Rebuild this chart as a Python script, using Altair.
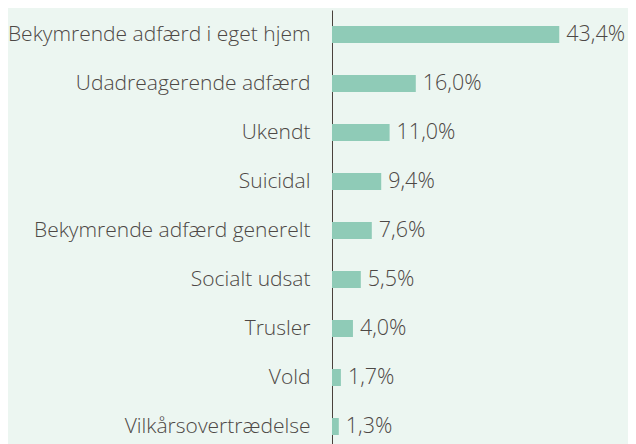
import altair as alt
import pandas as pd

categories = [
    "Bekymrende adfærd i eget hjem",
    "Udadreagerende adfærd",
    "Ukendt",
    "Suicidal",
    "Bekymrende adfærd generelt",
    "Socialt udsat",
    "Trusler",
    "Vold",
    "Vilkårsovertrædelse",
]
values = [43.4, 16.0, 11.0, 9.4, 7.6, 5.5, 4.0, 1.7, 1.3]
labels = ["43,4%", "16,0%", "11,0%", "9,4%", "7,6%", "5,5%", "4,0%", "1,7%", "1,3%"]

df = pd.DataFrame({"cat": categories, "val": values, "lab": labels})

TEXT = "#4d4845"
FONT = "Open Sans"

y = alt.Y(
    "cat:N",
    sort=categories,
    title=None,
    scale=alt.Scale(paddingInner=0.65, paddingOuter=0.325),
    axis=alt.Axis(
        domainColor="#4a413c",
        domainWidth=1,
        ticks=False,
        labelPadding=22,
        labelFont=FONT,
        labelFontSize=21,
        labelFontWeight=300,
        labelColor=TEXT,
        labelLimit=400,
    ),
)
x = alt.X("val:Q", scale=alt.Scale(domain=[0, 55]), axis=None)

bars = alt.Chart(df).mark_bar(color="#8fcbb7", size=17).encode(x=x, y=y)
text = alt.Chart(df).mark_text(
    align="left", baseline="middle", dx=7, font=FONT, fontSize=21.5,
    fontWeight=300, color=TEXT
).encode(x=x, y=y, text="lab:N")

chart = (
    (bars + text)
    .properties(
        width=288,
        height=441,
        background="#ecf6f1",
        autosize=alt.AutoSizeParams(type="none"),
        padding={"left": 324, "top": 2, "right": 8, "bottom": 0},
    )
    .configure_view(stroke=None)
)

chart.save("out.html", embed_options={"renderer": "svg", "actions": False})
